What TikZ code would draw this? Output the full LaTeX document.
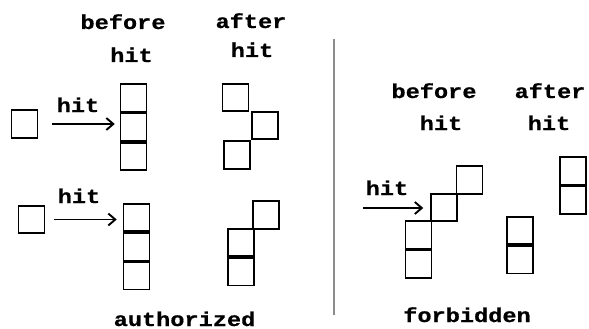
\documentclass[tikz,border=0pt]{standalone}
\usepackage{fontspec}
\usetikzlibrary{arrows.meta}
\newfontfamily\lblfont[FakeStretch=1.18,FakeBold=0.6]{Liberation Mono Bold}
\tikzset{
  cell/.style={draw, line width=1.7pt, minimum width=25.8pt, minimum height=27.4pt, inner sep=0pt},
  lbl/.style={font=\lblfont\fontsize{20}{20}\selectfont, inner sep=0pt, anchor=base},
  hitarrow/.style={line width=1.9pt, -{Straight Barb[length=7pt,width=12pt,line width=1.9pt]}},
  divider/.style={line width=1.5pt, draw=black!45}
}
\begin{document}
\begin{tikzpicture}[x=1pt,y=-1pt]
\useasboundingbox (0,0) rectangle (589,329);

% ---- authorized, first case ----
\node[lbl] (tb1) at (123,29) {before};
\node[lbl] (tb2) at (131.5,62) {hit};
\node[lbl] (ta1) at (251,28) {after};
\node[lbl] (ta2) at (252,57) {hit};

\node[cell] (p1) at (24.5,124) {};
\node[cell] (u1) at (133.5,98) {};
\node[cell] (u2) at (133.5,127.2) {};
\node[cell] (u3) at (133.5,156.4) {};
\node[lbl] (h1) at (78,112) {hit};
\draw[hitarrow, shorten <=14pt, shorten >=5pt] (p1.east) -- (p1.east -| u2.west);

\node[cell] (v1) at (235.5,97.5) {};
\node[cell] (v2) at (265,125.5) {};
\node[cell] (v3) at (237,155) {};

% ---- authorized, second case ----
\node[cell] (p2) at (31.5,219.5) {};
\node[cell] (w1) at (136.5,217.5) {};
\node[cell] (w2) at (136.5,246.7) {};
\node[cell] (w3) at (136.5,275.9) {};
\node[lbl] (h2) at (79,203) {hit};
\draw[hitarrow, shorten <=9pt, shorten >=6pt] (p2.east) -- (p2.east -| w1.west);

\node[cell] (x1) at (266,215) {};
\node[cell] (x2) at (241,242.5) {};
\node[cell] (x3) at (241,271.7) {};

\node[lbl] (auth) at (184.5,326) {authorized};

% ---- separator ----
\coordinate (d1) at (334,39);
\coordinate (d2) at (334,315);
\draw[divider] (d1) -- (d2);

% ---- forbidden case ----
\node[lbl] (fb1) at (434,98) {before};
\node[lbl] (fb2) at (441,130) {hit};
\node[lbl] (fa1) at (550,98) {after};
\node[lbl] (fa2) at (549,130) {hit};

\node[cell] (y1) at (418.5,235) {};
\node[cell] (y2) at (418.5,264.2) {};
\node[cell] (yA) at (444,207.5) {};
\node[cell] (yB) at (469.5,180) {};
\node[lbl] (h3) at (387,195) {hit};
\coordinate (fs) at (363,208);
\draw[hitarrow, shorten >=7pt] (fs) -- (fs -| yA.west);

\node[cell] (z1) at (520,230.5) {};
\node[cell] (z2) at (520,259.7) {};
\node[cell] (z3) at (573,171) {};
\node[cell] (z4) at (573,200.2) {};

\node[lbl] (forb) at (467,322) {forbidden};
\end{tikzpicture}
\end{document}
